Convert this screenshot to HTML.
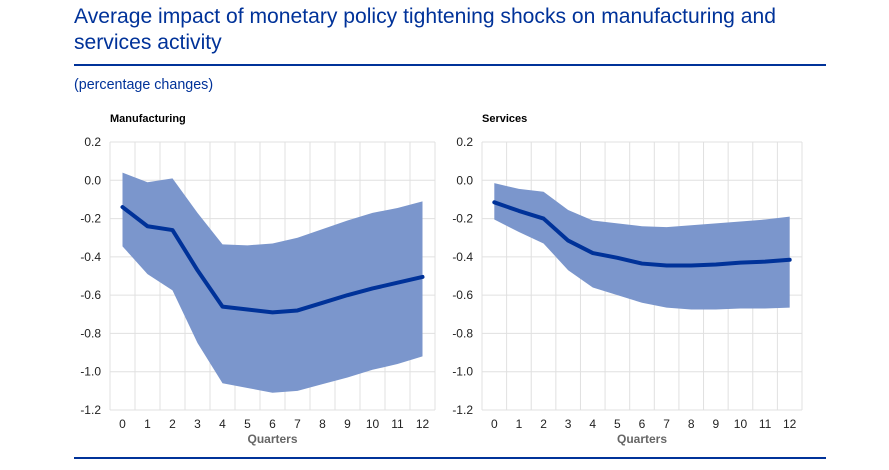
<!DOCTYPE html>
<html><head><meta charset="utf-8"><style>
body{margin:0;background:#fff;width:889px;height:470px;overflow:hidden;font-family:"Liberation Sans",sans-serif;}
.t{position:absolute;left:74px;top:4px;color:#003299;font-size:21.1px;line-height:26px;}
.rule{position:absolute;left:74px;width:752px;height:2px;background:#003299;}
.sub{position:absolute;left:74px;top:77px;color:#003299;font-size:14.3px;}
</style></head><body>
<div class="t">Average impact of monetary policy tightening shocks on manufacturing and<br>services activity</div>
<div class="rule" style="top:64px"></div>
<div class="sub">(percentage changes)</div>
<div class="rule" style="top:457px"></div>
<svg id="c" width="889" height="470" style="position:absolute;left:0;top:0"></svg>
<script>
const quarters=[0,1,2,3,4,5,6,7,8,9,10,11,12];
const yTicks=[0.2,0.0,-0.2,-0.4,-0.6,-0.8,-1.0,-1.2];
const manMean=[-0.14,-0.24,-0.26,-0.47,-0.66,-0.675,-0.69,-0.68,-0.64,-0.60,-0.565,-0.535,-0.505];
const manUpper=[0.04,-0.01,0.01,-0.17,-0.335,-0.34,-0.33,-0.30,-0.255,-0.21,-0.17,-0.145,-0.11];
const manLower=[-0.345,-0.49,-0.575,-0.85,-1.06,-1.085,-1.11,-1.10,-1.065,-1.03,-0.99,-0.96,-0.92];
const svcMean=[-0.115,-0.16,-0.20,-0.315,-0.38,-0.405,-0.435,-0.445,-0.445,-0.44,-0.43,-0.425,-0.415];
const svcUpper=[-0.015,-0.045,-0.06,-0.155,-0.21,-0.225,-0.24,-0.245,-0.235,-0.225,-0.215,-0.205,-0.19];
const svcLower=[-0.205,-0.27,-0.33,-0.47,-0.56,-0.60,-0.64,-0.665,-0.675,-0.675,-0.67,-0.67,-0.665];
const NS='http://www.w3.org/2000/svg';
const svg=document.getElementById('c');
function mk(t,a,p){const e=document.createElementNS(NS,t);for(const k in a)e.setAttribute(k,a[k]);(p||svg).appendChild(e);return e;}
function panel(key,title,x0,x1,mean,up,lo){
  const g=mk('g',{});
  
  
  const y0=142,y1=410,n=quarters.length,bw=(x1-x0)/n;
  const Y=v=>y0+(0.2-v)/1.4*(y1-y0);
  const X=i=>x0+bw*(i+0.5);
  yTicks.forEach(v=>{
    const l=mk('line',{x1:x0,x2:x1,y1:Y(v),y2:Y(v),stroke:'#e0e0e0','stroke-width':1},g);
    
    
    const t=mk('text',{x:x0-9,y:Y(v)+4,'text-anchor':'end','font-size':12,fill:'#222'},g);
    t.textContent=v.toFixed(1);
    
    
  });
  for(let i=0;i<=n;i++){
    const l=mk('line',{x1:x0+bw*i,x2:x0+bw*i,y1:y0,y2:y1,stroke:'#e0e0e0','stroke-width':1},g);
    
    
  }
  quarters.forEach((q,i)=>{
    const t=mk('text',{x:X(i),y:y1+18,'text-anchor':'middle','font-size':12,fill:'#222'},g);
    t.textContent=q;
    
    
  });
  let pts=up.map((v,i)=>X(i)+','+Y(v)).concat(lo.map((v,i)=>X(i)+','+Y(v)).reverse());
  const band=mk('polygon',{points:pts.join(' '),fill:'#7b96cc'},g);
  
  
  const line=mk('polyline',{points:mean.map((v,i)=>X(i)+','+Y(v)).join(' '),fill:'none',stroke:'#003299','stroke-width':4,'stroke-linejoin':'round','stroke-linecap':'round'},g);
  
  
  const tt=mk('text',{x:x0,y:122,'font-size':11,'font-weight':'bold',fill:'#000'},g);
  tt.textContent=title;
  
  
  const xl=mk('text',{x:(x0+x1)/2,y:443,'text-anchor':'middle','font-size':12,'font-weight':'bold',fill:'#666'},g);
  xl.textContent='Quarters';
  
  
}
panel('manufacturing','Manufacturing',110,435,manMean,manUpper,manLower);
panel('services','Services',482,802,svcMean,svcUpper,svcLower);
</script>
</body></html>
